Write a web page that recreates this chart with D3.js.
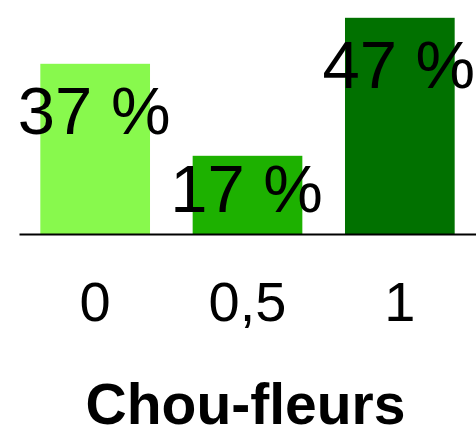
<!DOCTYPE html>
<html>
<head>
<meta charset="utf-8">
<script src="https://cdn.jsdelivr.net/npm/d3@7"></script>
<style>
  body { margin: 0; background: #fff; }
  text { font-family: "Liberation Sans", Arial, Helvetica, sans-serif; fill: #000; }
</style>
</head>
<body>
<div id="chart"></div>
<script>
// data
const categories = ["0", "0,5", "1"];
const percents = [37, 17, 47];
const barColors = ["#88f94d", "#1db100", "#017100"];
const axisTitle = "Chou-fleurs";

const width = 476,
  height = 435;
const baseY = 234;

const svg = d3.select("#chart")
  .append("svg")
  .attr("width", width)
  .attr("height", height);

const x = d3.scaleBand()
  .domain(categories)
  .range([19, 476])
  .paddingInner(0.28)
  .paddingOuter(0.14);

const y = d3.scaleLinear()
  .domain([0, 50])
  .range([baseY, baseY - 230]);

const data = categories.map((c, i) => ({ cat: c, v: percents[i], color: barColors[i] }));

// bars
svg.selectAll("rect.bar")
  .data(data)
  .enter()
  .append("rect")
  .attr("class", "bar")
  .attr("x", d => x(d.cat))
  .attr("y", d => y(d.v))
  .attr("width", x.bandwidth())
  .attr("height", d => y(0) - y(d.v))
  .attr("fill", d => d.color);

// value labels
svg.selectAll("text.val")
  .data(data)
  .enter()
  .append("text")
  .attr("class", "val")
  .attr("x", d => x(d.cat) + x.bandwidth() / 2 - 1)
  .attr("y", d => Math.min(y(d.v) + 70, y(0) - 22))
  .attr("text-anchor", "middle")
  .style("font-size", "67px")
  .text(d => d.v + " %");

// x axis
const gX = svg.append("g")
  .attr("transform", `translate(0,${baseY})`)
  .call(d3.axisBottom(x).tickSize(0).tickSizeOuter(0));

gX.select(".domain")
  .attr("stroke", "#000")
  .attr("stroke-width", 2);

gX.selectAll(".tick text")
  .attr("y", 87)
  .attr("dy", 0)
  .style("font-size", "56px")
  .style("font-family", "'Liberation Sans', Arial, sans-serif")
  .attr("fill", "#000");

// axis title
svg.append("text")
  .attr("x", (x.range()[0] + x.range()[1]) / 2 - 2)
  .attr("y", 424)
  .attr("text-anchor", "middle")
  .style("font-size", "57px")
  .style("font-weight", "bold")
  .text(axisTitle);
</script>
</body>
</html>
